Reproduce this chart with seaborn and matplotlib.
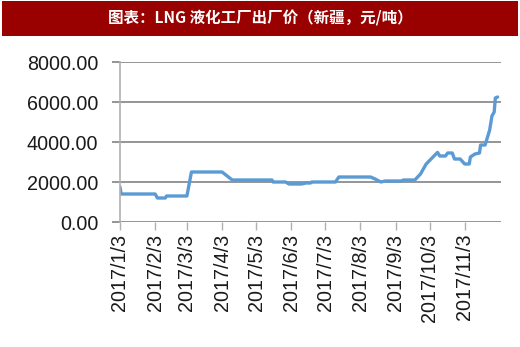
import matplotlib
matplotlib.use("Agg")
import matplotlib.pyplot as plt
import seaborn as sns
import pandas as pd
from matplotlib.patches import Rectangle

sns.set_theme(style="white")
plt.rcParams['font.family'] = ['Liberation Sans', 'DejaVu Sans']

dates = ["2017-01-03", "2017-01-04", "2017-02-03", "2017-02-05", "2017-02-12",
         "2017-02-13", "2017-03-03", "2017-03-07", "2017-04-03", "2017-04-12",
         "2017-05-17", "2017-05-18", "2017-05-29", "2017-06-01", "2017-06-12",
         "2017-06-16", "2017-06-20", "2017-06-21", "2017-07-12", "2017-07-15",
         "2017-08-12", "2017-08-16", "2017-08-21", "2017-08-25", "2017-09-08",
         "2017-09-10", "2017-09-20", "2017-09-25", "2017-09-30", "2017-10-10",
         "2017-10-12", "2017-10-17", "2017-10-19", "2017-10-23", "2017-10-25",
         "2017-10-30", "2017-11-03", "2017-11-07", "2017-11-08", "2017-11-12",
         "2017-11-16", "2017-11-17", "2017-11-21", "2017-11-25", "2017-11-27",
         "2017-11-29", "2017-11-30", "2017-12-02"]
prices = [1750, 1400, 1400, 1200, 1200,
          1300, 1300, 2500, 2500, 2100,
          2100, 2000, 2000, 1900, 1900,
          1950, 1950, 2000, 2000, 2250,
          2250, 2150, 2000, 2050, 2050,
          2100, 2100, 2400, 2900, 3480,
          3300, 3300, 3450, 3450, 3150,
          3150, 2900, 2900, 3250, 3400,
          3450, 3850, 3850, 4600, 5300,
          5500, 6200, 6250]
tick_dates = ["2017-01-03", "2017-02-03", "2017-03-03", "2017-04-03", "2017-05-03",
              "2017-06-03", "2017-07-03", "2017-08-03", "2017-09-03", "2017-10-03",
              "2017-11-03"]
tick_labels = ["2017/1/3", "2017/2/3", "2017/3/3", "2017/4/3", "2017/5/3",
               "2017/6/3", "2017/7/3", "2017/8/3", "2017/9/3", "2017/10/3",
               "2017/11/3"]
yticks = [0, 2000, 4000, 6000, 8000]
ytick_labels = ["0.00", "2000.00", "4000.00", "6000.00", "8000.00"]
title = "图表：LNG 液化工厂出厂价（新疆，元/吨）"

df = pd.DataFrame({"date": pd.to_datetime(dates), "price": prices})

fig = plt.figure(figsize=(5.2, 3.47), dpi=100)
fig.patch.set_facecolor("white")

# title bar
fig.patches.append(Rectangle((2/520, 1 - 36/347), 516/520, 35/347,
                             transform=fig.transFigure, facecolor="#990000",
                             edgecolor="none", zorder=0))
fig.text(0.5, 1 - 18.5/347, title, color="white", ha="center", va="center",
         fontsize=11.2, fontweight="bold",
         family=['Noto Sans CJK SC', 'DejaVu Sans'])

ax = fig.add_axes([120/520, 1 - 222/347, 381/520, 160/347])
sns.lineplot(data=df, x="date", y="price", ax=ax, color="#5B9BD5",
             linewidth=2.4, legend=False)

ax.set_xlim(pd.Timestamp("2017-01-03"), pd.Timestamp("2017-12-05"))
ax.set_ylim(0, 8000)
ax.set_yticks(yticks)
ax.set_yticklabels(ytick_labels)
ax.set_xticks(pd.to_datetime(tick_dates))
ax.set_xticklabels(tick_labels, rotation=90, va="top", ha="center")
ax.set_xlabel("")
ax.set_ylabel("")

ax.grid(axis="y", color="#8c8c8c", linewidth=1.3)
ax.grid(axis="x", visible=False)
ax.set_axisbelow(True)
for s in ["top", "right", "bottom"]:
    ax.spines[s].set_visible(False)
ax.spines["left"].set_color("#b0b0b0")
ax.spines["left"].set_linewidth(1.2)

ax.tick_params(axis="y", length=5.5, width=1.3, color="#8c8c8c", pad=10,
               labelsize=14.2, labelcolor="#1a1a1a", left=True)
ax.tick_params(axis="x", length=5.5, width=1.0, color="#b0b0b0", pad=3,
               labelsize=14.2, labelcolor="#1a1a1a", bottom=True)

fig.savefig("out.png", dpi=100)
